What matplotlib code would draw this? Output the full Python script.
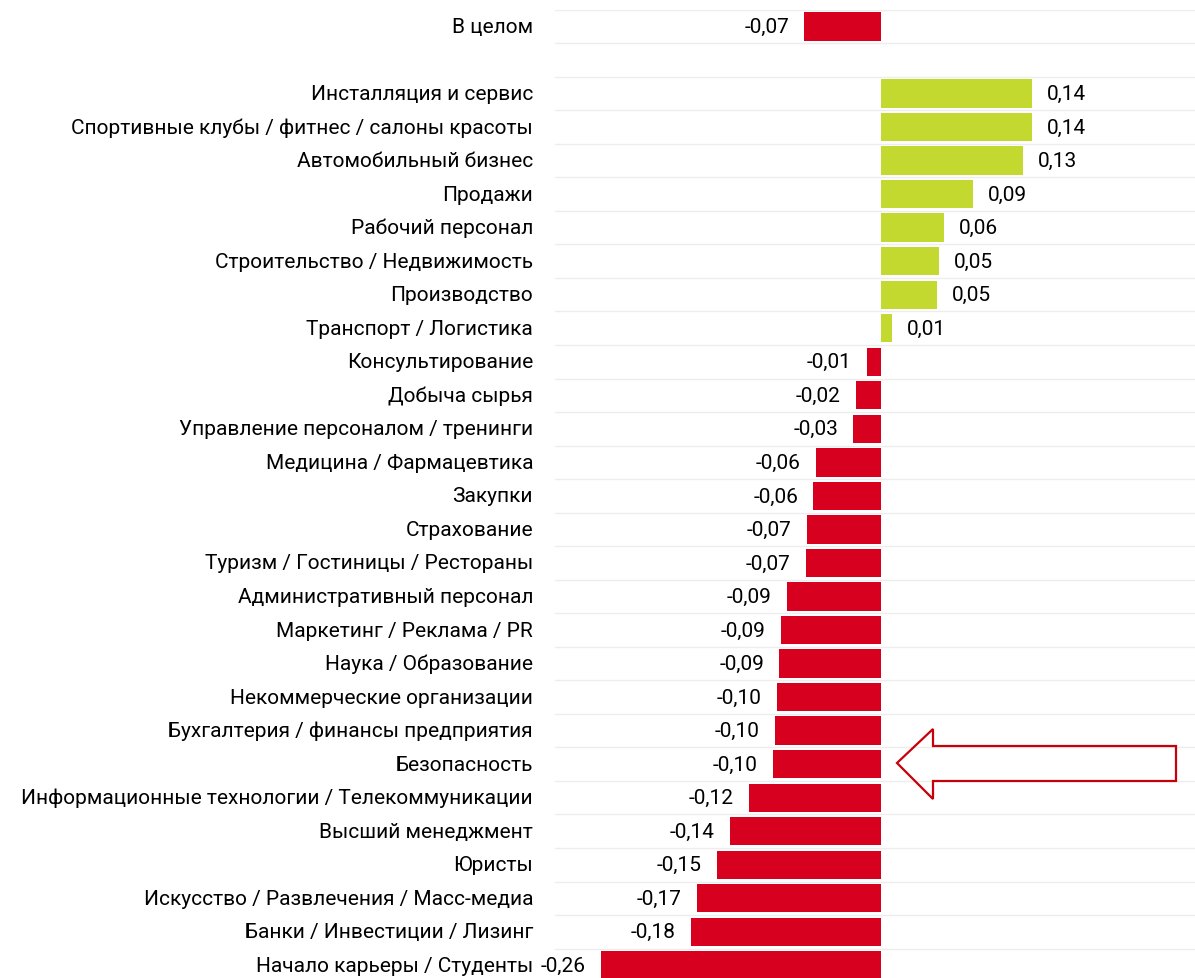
import matplotlib
matplotlib.use('Agg')
import matplotlib.pyplot as plt
from matplotlib.patches import Polygon
import matplotlib.transforms as mtransforms

plt.rcParams['font.family'] = ['Roboto', 'DejaVu Sans']

overall_label = 'В целом'
overall_value = -0.0704

categories = [
    'Инсталляция и сервис',
    'Спортивные клубы / фитнес / салоны красоты',
    'Автомобильный бизнес',
    'Продажи',
    'Рабочий персонал',
    'Строительство / Недвижимость',
    'Производство',
    'Транспорт / Логистика',
    'Консультирование',
    'Добыча сырья',
    'Управление персоналом / тренинги',
    'Медицина / Фармацевтика',
    'Закупки',
    'Страхование',
    'Туризм / Гостиницы / Рестораны',
    'Административный персонал',
    'Маркетинг / Реклама / PR',
    'Наука / Образование',
    'Некоммерческие организации',
    'Бухгалтерия / финансы предприятия',
    'Безопасность',
    'Информационные технологии / Телекоммуникации',
    'Высший менеджмент',
    'Юристы',
    'Искусство / Развлечения / Масс-медиа',
    'Банки / Инвестиции / Лизинг',
    'Начало карьеры / Студенты',
]
# the printed labels are these rounded to 2 decimals
values = [0.1403, 0.1403, 0.1317, 0.0854, 0.0588, 0.0542, 0.0520, 0.0104,
          -0.0128, -0.0230, -0.0252, -0.0600, -0.0622, -0.0681, -0.0693,
          -0.0869, -0.0924, -0.0937, -0.0958, -0.0980, -0.0993, -0.1215,
          -0.1396, -0.1514, -0.1699, -0.1755, -0.2588]
highlight = 'Безопасность'

RED = '#d7001e'
GREEN = '#c3d92f'

labels = [overall_label, ''] + categories
vals = [overall_value, None] + values
n = len(labels)

fig = plt.figure(figsize=(11.95, 9.79), dpi=100)
top = 10.7 / 979
bottom = 983.1 / 979
ax = fig.add_axes([555 / 1195, 1 - bottom, 640 / 1195, bottom - top])
# zero sits at x=880.5 px, 1080 px per unit
ax.set_xlim((555 - 880.5) / 1080, (1195 - 880.5) / 1080)
ax.set_ylim(n - 0.5, -0.5)
ax.axis('off')

for b in range(n + 1):
    ax.axhline(b - 0.5, color='#ededed', lw=1, zorder=0)

lab_tr = mtransforms.blended_transform_factory(fig.transFigure, ax.transData)
for i, (lab, v) in enumerate(zip(labels, vals)):
    if v is None:
        continue
    ax.barh(i, v, height=0.845, color=GREEN if v > 0 else RED, zorder=2)
    txt = f'{v:.2f}'.replace('.', ',')
    if v > 0:
        ax.annotate(txt, (v, i), xytext=(11, 0), textcoords='offset points',
                    ha='left', va='center', fontsize=15)
    else:
        ax.annotate(txt, (v, i), xytext=(-11, 0), textcoords='offset points',
                    ha='right', va='center', fontsize=15)
    ax.text(533 / 1195, i, lab, transform=lab_tr, ha='right', va='center',
            fontsize=15)

# outlined arrow pointing at the highlighted bar
px = [897, 933, 933, 1176, 1176, 933, 933]
py = [764, 730, 747, 747, 782, 782, 800]
pts = [(x / 1195, 1 - y / 979) for x, y in zip(px, py)]
fig.patches.append(Polygon(pts, closed=True, fill=False, edgecolor='#c8000a',
                           lw=1.6, transform=fig.transFigure))

fig.savefig('out.png', dpi=100)
